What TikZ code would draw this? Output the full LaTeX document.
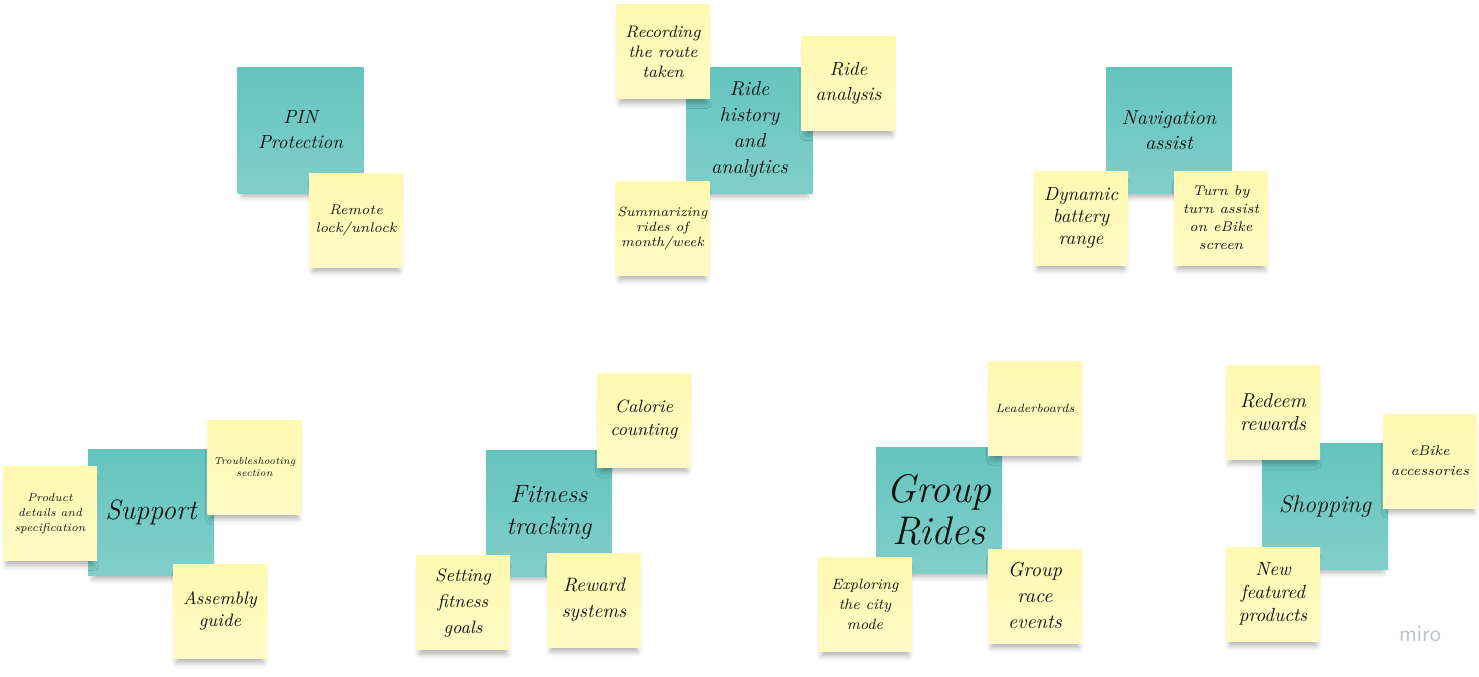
\documentclass[tikz,border=0pt]{standalone}
\definecolor{notet}{RGB}{101,196,190}
\definecolor{notey}{RGB}{255,249,177}
\definecolor{mirogray}{RGB}{185,195,201}
\usepackage{tikz}
\usetikzlibrary{positioning,shadows.blur}
\newcommand{\handw}[2]{\fontsize{#1}{#2}\selectfont\itshape}

\begin{document}
\begin{tikzpicture}[
  x=0.5pt, y=-0.5pt,
  every node/.style={text=black!92, align=center, inner sep=0pt},
  bignote/.style={rectangle, top color=notet, bottom color=notet!82!white,
                  minimum width=63pt, minimum height=63pt,
                  blur shadow={shadow xshift=0pt, shadow yshift=-4.5pt,
                               shadow opacity=32, shadow blur radius=3pt, shadow scale=0.92}},
  smallnote/.style={rectangle, top color=notey, bottom color=notey!75!white,
                    minimum width=47pt, minimum height=47pt,
                    blur shadow={shadow xshift=0pt, shadow yshift=-4.5pt,
                                 shadow opacity=32, shadow blur radius=3pt, shadow scale=0.92}}
]
  \useasboundingbox (0,0) rectangle (1479,676);

  % Topic notes
  \node[bignote, font=\handw{9.5}{12.5}] (pin) at (300.5,130) {PIN\\Protection};
  \node[bignote, font=\handw{10}{13}] (ride) at (749.5,130) {Ride\\history\\and\\analytics};
  \node[bignote, font=\handw{10}{12.5}] (nav) at (1169,130.5) {Navigation\\assist};
  \node[bignote, font=\handw{14}{16}] (support) at (151,512.5) {Support};
  \node[bignote, font=\handw{12.5}{16}] (fitness) at (549,513) {Fitness\\tracking};
  \node[bignote, font=\handw{20}{21}] (group) at (939,510) {Group\\Rides};
  \node[bignote, font=\handw{12}{14}] (shop) at (1325,506) {Shopping};

  % PIN Protection
  \node[smallnote, font=\handw{7}{9}] (remote) at (356,220) {Remote\\lock/unlock};

  % Ride history
  \node[smallnote, font=\handw{8.3}{10}] (recording) at (663,51.5) {Recording\\the route\\taken};
  \node[smallnote, font=\handw{9.5}{12.5}] (analysis) at (848.5,83.5) {Ride\\analysis};
  \node[smallnote, font=\handw{6.7}{7.5}] (summary) at (662.5,228) {Summarizing\\rides of\\month/week};

  % Navigation
  \node[smallnote, font=\handw{9.5}{11}] (battery) at (1081,218) {Dynamic\\battery\\range};
  \node[smallnote, font=\handw{7}{9}] (turnby) at (1221,218) {Turn by\\turn assist\\on eBike\\screen};

  % Support
  \node[smallnote, font=\handw{5.7}{7.5}] (product) at (50,513.5) {Product\\details and\\specification};
  \node[smallnote, font=\handw{5.1}{6}] (trouble) at (254.5,467) {Troubleshooting\\section};
  \node[smallnote, font=\handw{9}{11}] (assembly) at (220,611) {Assembly\\guide};

  % Fitness tracking
  \node[smallnote, font=\handw{8.9}{11.5}] (calorie) at (644,420) {Calorie\\counting};
  \node[smallnote, font=\handw{9}{13}] (goals) at (463,602.5) {Setting\\fitness\\goals};
  \node[smallnote, font=\handw{9.7}{13}] (reward) at (594,600) {Reward\\systems};

  % Group rides
  \node[smallnote, font=\handw{6}{7}] (leader) at (1035,408) {Leaderboards};
  \node[smallnote, font=\handw{7.5}{10}] (explore) at (865,604) {Exploring\\the city\\mode};
  \node[smallnote, font=\handw{10}{13}] (race) at (1035,596) {Group\\race\\events};

  % Shopping
  \node[smallnote, font=\handw{10}{11.5}] (redeem) at (1273,412) {Redeem\\rewards};
  \node[smallnote, font=\handw{7}{10}] (accessories) at (1430,461) {eBike\\accessories};
  \node[smallnote, font=\handw{9.5}{11.5}] (featured) at (1273,594) {New\\featured\\products};

  \node[font=\sffamily\fontsize{11.5}{12}\selectfont, text=mirogray] (miro) at (1420,634) {miro};
\end{tikzpicture}
\end{document}
